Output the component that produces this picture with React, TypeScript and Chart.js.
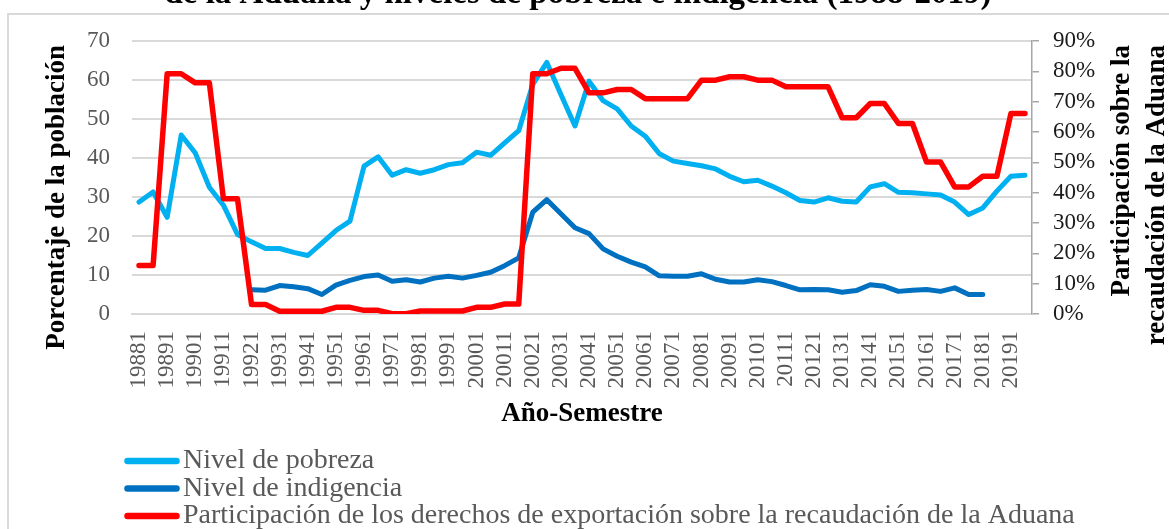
import React, { useEffect, useRef } from "react";
import { Chart, registerables } from "chart.js";

Chart.register(...registerables);

const categories = [
  "19881", "19882", "19891", "19892", "19901", "19902", "19911", "19912",
  "19921", "19922", "19931", "19932", "19941", "19942", "19951", "19952",
  "19961", "19962", "19971", "19972", "19981", "19982", "19991", "19992",
  "20001", "20002", "20011", "20012", "20021", "20022", "20031", "20032",
  "20041", "20042", "20051", "20052", "20061", "20062", "20071", "20072",
  "20081", "20082", "20091", "20092", "20101", "20102", "20111", "20112",
  "20121", "20122", "20131", "20132", "20141", "20142", "20151", "20152",
  "20161", "20162", "20171", "20172", "20181", "20182", "20191", "20192",
];

const pobreza = [
  28.7, 31.3, 24.8, 45.9, 41.3, 32.5, 27.9, 20.4,
  18.5, 16.8, 16.8, 15.8, 15.0, 18.2, 21.4, 23.8,
  37.9, 40.3, 35.6, 37.0, 36.1, 37.0, 38.3, 38.8,
  41.5, 40.7, 43.9, 47.0, 58.9, 64.5, 56.3, 48.2,
  59.7, 54.7, 52.6, 48.2, 45.6, 41.1, 39.2, 38.6,
  38.0, 37.2, 35.3, 33.9, 34.3, 32.8, 31.1, 29.1,
  28.7, 29.8, 28.9, 28.7, 32.6, 33.4, 31.2, 31.1,
  30.8, 30.5, 28.7, 25.5, 27.2, 31.5, 35.3, 35.6,
];

const indigencia = [
  null, null, null, null, null, null, null, null,
  6.2, 6.1, 7.3, 7.0, 6.5, 5.0, 7.4, 8.6,
  9.6, 10.0, 8.4, 8.8, 8.2, 9.2, 9.7, 9.2,
  9.9, 10.7, 12.4, 14.4, 26.1, 29.3, 25.7, 22.1,
  20.6, 16.7, 14.8, 13.3, 12.1, 9.8, 9.7, 9.7,
  10.3, 8.9, 8.2, 8.2, 8.8, 8.3, 7.3, 6.2,
  6.3, 6.2, 5.6, 6.0, 7.5, 7.1, 5.8, 6.1,
  6.3, 5.8, 6.7, 5.0, 5.0, null, null, null,
];

const derechos = [
  16.0, 16.0, 79.2, 79.2, 76.2, 76.2, 38.0, 38.0,
  3.1, 3.1, 0.9, 0.9, 0.9, 0.9, 2.2, 2.2,
  1.2, 1.2, 0.1, 0.1, 1.0, 1.0, 1.0, 1.0,
  2.2, 2.2, 3.3, 3.3, 79.2, 79.2, 81.0, 81.0,
  72.9, 72.9, 74.0, 74.0, 71.0, 71.0, 71.0, 71.0,
  77.1, 77.1, 78.2, 78.2, 77.1, 77.1, 74.9, 74.9,
  74.9, 74.9, 64.7, 64.7, 69.4, 69.4, 62.8, 62.8,
  50.1, 50.1, 41.9, 41.9, 45.4, 45.4, 66.1, 66.1,
];

const seriesNames = [
  "Nivel de pobreza",
  "Nivel de indigencia",
  "Participación de los derechos de exportación sobre la recaudación de la Aduana",
];
const seriesColors = ["#00B0F0", "#0070C0", "#FF0000"];

const titleText = "de la Aduana y niveles de pobreza e indigencia (1988-2019)";
const leftTitle = "Porcentaje de la población";
const rightTitleLines = ["Participación sobre la", "recaudación de la Aduana"];
const bottomTitle = "Año-Semestre";

const SERIF = '"Liberation Serif", "Times New Roman", serif';

const decorPlugin = {
  id: "decor",
  beforeDraw(chart: any) {
    const ctx = chart.ctx;
    ctx.save();
    ctx.fillStyle = "#ffffff";
    ctx.fillRect(0, 0, chart.width, chart.height);
    ctx.restore();
  },
  afterDraw(chart: any) {
    const ctx = chart.ctx;
    const area = chart.chartArea;
    ctx.save();
    // frame
    ctx.strokeStyle = "#d9d9d9";
    ctx.lineWidth = 2;
    ctx.strokeRect(8, 14, chart.width + 100, chart.height + 100);

    // cropped title
    ctx.fillStyle = "#000000";
    ctx.font = `bold 33px ${SERIF}`;
    ctx.textAlign = "center";
    ctx.textBaseline = "alphabetic";
    ctx.fillText(titleText, 578, 3);

    // left axis title
    ctx.font = `bold 27px ${SERIF}`;
    ctx.save();
    ctx.translate(57, 45);
    ctx.rotate(-Math.PI / 2);
    ctx.textAlign = "right";
    ctx.textBaseline = "middle";
    ctx.fillText(leftTitle, 0, 0);
    ctx.restore();

    // right axis title (two lines)
    const rx = [1122, 1157];
    rightTitleLines.forEach((t, i) => {
      ctx.save();
      ctx.translate(rx[i], 45);
      ctx.rotate(-Math.PI / 2);
      ctx.textAlign = "right";
      ctx.textBaseline = "middle";
      ctx.fillText(t, 0, 0);
      ctx.restore();
    });

    // bottom title
    ctx.textAlign = "center";
    ctx.textBaseline = "middle";
    ctx.fillText(bottomTitle, (area.left + area.right) / 2, 414);

    // legend
    const rows = [461, 488.5, 516];
    ctx.lineCap = "round";
    ctx.lineWidth = 6.5;
    ctx.font = `28px ${SERIF}`;
    ctx.textAlign = "left";
    ctx.textBaseline = "middle";
    seriesNames.forEach((name, i) => {
      ctx.strokeStyle = seriesColors[i];
      ctx.beginPath();
      ctx.moveTo(127.5, rows[i]);
      ctx.lineTo(176.5, rows[i]);
      ctx.stroke();
      ctx.fillStyle = "#595959";
      ctx.fillText(name, 183, rows[i]);
    });
    ctx.restore();
  },
};

export default function App() {
  const ref = useRef<HTMLCanvasElement | null>(null);

  useEffect(() => {
    if (!ref.current) return;
    const chart = new Chart(ref.current, {
      type: "line",
      data: {
        labels: categories,
        datasets: [
          {
            label: seriesNames[0],
            data: pobreza,
            borderColor: seriesColors[0],
            backgroundColor: seriesColors[0],
            borderWidth: 5,
            pointRadius: 0,
            tension: 0,
            yAxisID: "y",
            order: 2,
            borderJoinStyle: "round",
            borderCapStyle: "round",
          },
          {
            label: seriesNames[1],
            data: indigencia,
            borderColor: seriesColors[1],
            backgroundColor: seriesColors[1],
            borderWidth: 5,
            pointRadius: 0,
            tension: 0,
            yAxisID: "y",
            order: 1,
            borderJoinStyle: "round",
            borderCapStyle: "round",
          },
          {
            label: seriesNames[2],
            data: derechos,
            borderColor: seriesColors[2],
            backgroundColor: seriesColors[2],
            borderWidth: 5.5,
            pointRadius: 0,
            tension: 0,
            yAxisID: "y1",
            order: 0,
            borderJoinStyle: "round",
            borderCapStyle: "round",
          },
        ],
      },
      options: {
        responsive: false,
        animation: false,
        devicePixelRatio: 1,
        layout: { padding: { top: 41, bottom: 99, left: 0, right: 0 } },
        plugins: {
          legend: { display: false },
          title: { display: false },
          tooltip: { enabled: false },
        },
        scales: {
          x: {
            type: "category",
            offset: true,
            grid: { display: false, drawTicks: false },
            border: { display: true, color: "#d9d9d9", width: 2 },
            ticks: {
              autoSkip: false,
              maxRotation: 90,
              minRotation: 90,
              padding: 17,
              color: "#595959",
              font: { family: SERIF, size: 23 },
              callback: (_v: any, i: number) => (i % 2 === 0 ? categories[i] : ""),
            },
            afterFit: (s: any) => {
              s.height = 116;
            },
          },
          y: {
            position: "left",
            min: 0,
            max: 70,
            ticks: {
              stepSize: 10,
              autoSkip: false,
              padding: 22,
              color: "#595959",
              font: { family: SERIF, size: 23 },
            },
            grid: { color: "#d9d9d9", lineWidth: 2, drawTicks: false },
            border: { display: false },
            afterFit: (s: any) => {
              s.width = 132;
            },
          },
          y1: {
            position: "right",
            min: 0,
            max: 90,
            ticks: {
              stepSize: 10,
              autoSkip: false,
              padding: 14,
              color: "#1a1a1a",
              font: { family: SERIF, size: 23 },
              callback: (v: any) => `${v}%`,
            },
            grid: {
              drawOnChartArea: false,
              drawTicks: true,
              tickLength: 7,
              color: "#a6a6a6",
              lineWidth: 1.5,
            },
            border: { display: true, color: "#a6a6a6", width: 1.5 },
            afterFit: (s: any) => {
              s.width = 137;
            },
          },
        },
      },
      plugins: [decorPlugin],
    } as any);
    return () => chart.destroy();
  }, []);

  return (
    <div style={{ position: "fixed", left: 0, top: 0, width: 1169, height: 529, background: "#fff" }}>
      <canvas ref={ref} width={1169} height={529} style={{ display: "block" }} />
    </div>
  );
}
